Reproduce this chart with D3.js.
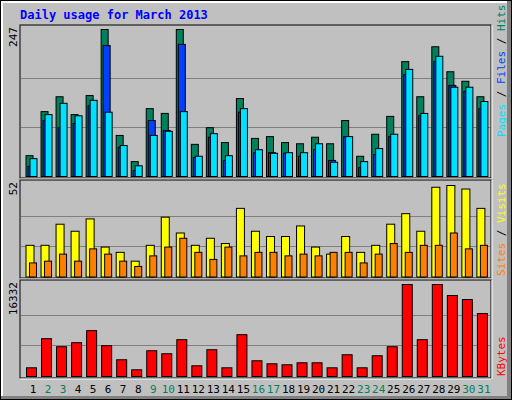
<!DOCTYPE html>
<html><head><meta charset="utf-8">
<script src="https://cdn.jsdelivr.net/npm/d3@7"></script>
<style>body{margin:0;background:#fff}svg{display:block}</style>
</head><body>
<svg id="c" width="512" height="400"></svg>
<script>
const days = d3.range(1, 32);
const weekend = [2,3,9,10,16,17,23,24,30,31];
const hits  = [35,109,134,104,136,247,69,25,114,106,247,54,82,57,131,64,67,57,55,66,55,94,34,71,101,193,134,218,176,160,134];
const files = [17,94,82,89,119,220,49,10,94,77,222,32,66,27,108,40,40,39,34,45,27,67,15,37,67,171,102,193,153,143,114];
const pages = [30,104,123,102,128,108,52,18,69,76,109,34,72,35,114,45,39,40,40,55,24,67,25,47,71,180,106,202,150,150,126];
const visits = [18,18,30,26,33,17,14,9,18,34,25,18,22,19,39,26,23,23,29,17,13,23,14,18,30,36,26,51,52,50,39];
const sites  = [8,9,13,9,16,13,9,6,12,17,22,14,10,17,12,14,14,12,13,12,14,14,8,13,19,14,18,18,25,16,18];
const kbytes = [1544,6712,5287,5999,8138,5465,2970,1188,4574,4039,6534,1901,4752,1544,7425,2792,2257,2079,2435,2435,1544,3861,1544,3683,5287,16332,6534,16332,14374,13662,11167];
const maxHits = 247, maxVisits = 52, maxKB = 16332;

const svg = d3.select('#c');
const font = "'DejaVu Sans Mono', monospace";
// frame
svg.append('rect').attr('x',0).attr('y',0).attr('width',512).attr('height',400).attr('fill','#000');
svg.append('rect').attr('x',1).attr('y',1).attr('width',510).attr('height',398).attr('fill','#808080');
svg.append('rect').attr('x',1).attr('y',1).attr('width',506).attr('height',395).attr('fill','#fff');
svg.append('rect').attr('x',3).attr('y',3).attr('width',504).attr('height',393).attr('fill','#c0c0c0');
svg.append('text').attr('x',20).attr('y',19).attr('fill','#0000ff').attr('font-family',font)
  .attr('font-weight','bold').attr('font-size',12).text('Daily usage for March 2013');

const x = d3.scaleLinear().domain([1,32]).range([25.5, 25.5+31*15.03]);
const L = 20, R = 491;
function panel(top, bottom) {
  svg.append('rect').attr('x',L).attr('y',top).attr('width',R-L).attr('height',bottom-top)
    .attr('fill','#c0c0c0').attr('stroke','#000').attr('stroke-width',1);
  svg.append('line').attr('x1',L).attr('x2',R).attr('y1',bottom+1).attr('y2',bottom+1).attr('stroke','#fff');
  svg.append('line').attr('x1',R+1).attr('x2',R+1).attr('y1',top).attr('y2',bottom+1).attr('stroke','#fff');
}
function grid(y, vmax) {
  [1/3, 2/3].forEach(f => svg.append('line').attr('x1',L+1).attr('x2',R-1)
    .attr('y1',Math.round(y(vmax*f))+0.5).attr('y2',Math.round(y(vmax*f))+0.5).attr('stroke','#808080'));
}
function bars(data, y, off, w, color) {
  svg.append('g').selectAll('rect').data(data).enter().append('rect')
    .attr('x',(d,i)=>x(days[i])+off+0.5).attr('width',w)
    .attr('y',d=>y(d)+0.5).attr('height',d=>y(0)-y(d))
    .attr('fill',color).attr('stroke','#000').attr('stroke-width',1);
}
function leftLabel(txt, yy) {
  svg.append('text').attr('transform',`translate(17,${yy}) rotate(-90)`).attr('text-anchor','end')
    .attr('font-family',font).attr('font-size',11).attr('fill','#000').text(txt);
}
function rightLabel(parts, yy) {
  const t = svg.append('text').attr('transform',`translate(496,${yy}) rotate(90)`)
    .attr('font-family',font).attr('font-size',11);
  parts.forEach(p => t.append('tspan').attr('fill',p[1]).text(p[0]));
}

// panel 1
panel(25, 178);
const y1 = d3.scaleLinear().domain([0,maxHits]).range([176,29]);
grid(y1, maxHits);
bars(hits, y1, 0, 7, '#00805c');
bars(files, y1, 2, 7, '#0040ff');
bars(pages, y1, 4, 7, '#00e0ff');
leftLabel('247', 27);
rightLabel([['Hits','#00805c'],[' / ','#000'],['Files','#0040ff'],[' / ','#000'],['Pages','#00e0ff']].reverse(), 0);

// panel 2
panel(180, 278);
const y2 = d3.scaleLinear().domain([0,maxVisits]).range([276.5,185]);
grid(y2, maxVisits);
bars(visits, y2, 0, 8, '#ffff00');
bars(sites, y2, 3.5, 7, '#ff8000');
leftLabel('52', 182);

// panel 3
panel(280, 378);
const y3 = d3.scaleLinear().domain([0,maxKB]).range([376,284]);
grid(y3, maxKB);
bars(kbytes, y3, 0.5, 10, '#ff0000');
leftLabel('16332', 282);

// rotated right labels (bottom-to-top)
function rightUp(parts, yy) {
  const t = svg.append('text').attr('transform',`translate(505,${yy}) rotate(-90)`)
    .attr('font-family',font).attr('font-size',11);
  parts.forEach(p => t.append('tspan').attr('fill',p[1]).text(p[0]));
}
svg.selectAll('text').filter(function(){return d3.select(this).attr('transform')==='translate(496,0) rotate(90)';}).remove();
rightUp([['Pages','#00e0ff'],[' / ','#000'],['Files','#0040ff'],[' / ','#000'],['Hits','#00805c']], 137);
rightUp([['Sites','#ff8000'],[' / ','#000'],['Visits','#ffff00']], 276);
rightUp([['KBytes','#ff0000']], 376);

// day labels
svg.append('g').selectAll('text').data(days).enter().append('text')
  .attr('x',d=>x(d)+7.5).attr('y',393).attr('text-anchor','middle')
  .attr('font-family',font).attr('font-size',11)
  .attr('fill',d=>weekend.includes(d)?'#00805c':'#000').text(d=>d);
</script>
</body></html>
